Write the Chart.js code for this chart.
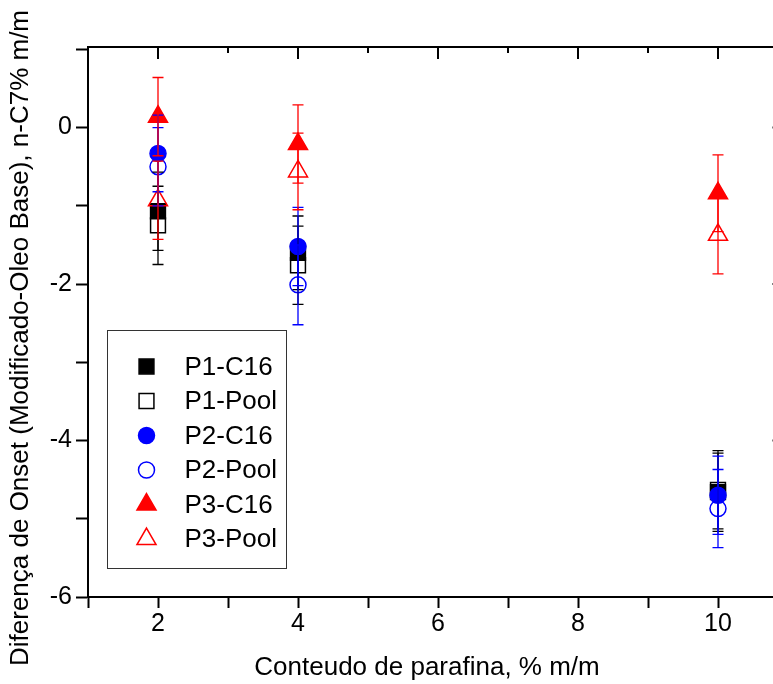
<!DOCTYPE html>
<html>
<head>
<meta charset="utf-8">
<script src="https://cdn.jsdelivr.net/npm/chart.js@4/dist/chart.umd.min.js"></script>
<style>
  html, body { margin: 0; padding: 0; background: #fff; overflow: hidden; }
  #wrap { width: 800px; height: 684px; }
</style>
</head>
<body>
<div id="wrap"><canvas id="myChart" width="800" height="684"></canvas></div>
<script>
// paraffin content (% m/m)
const xValues = [2, 4, 10];

// onset difference per sample
const p1C16 = [-1.07, -1.60, -4.66];
const p1Pool = [-1.25, -1.76, -4.63];
const p2C16 = [-0.33, -1.52, -4.70];
const p2Pool = [-0.50, -2.01, -4.87];
const p3C16 = [0.14, -0.21, -0.84];
const p3Pool = [-0.93, -0.56, -1.37];

// error bar half widths
const p1C16Err = [0.50, 0.47, 0.50];
const p1PoolErr = [0.50, 0.50, 0.50];
const p2C16Err = [0.49, 0.50, 0.50];
const p2PoolErr = [0.50, 0.51, 0.50];
const p3C16Err = [0.50, 0.50, 0.49];
const p3PoolErr = [0.50, 0.49, 0.50];

const xTitle = 'Conteudo de parafina, % m/m';
const yTitle = 'Diferença de Onset (Modificado-Oleo Base), n-C7% m/m';

const FONT = "'Liberation Sans', Arial, sans-serif";

function makeSet(label, ys, errs, style, color, filled, radius, order) {
    return {
        label: label,
        data: xValues.map((x, i) => ({ x: x, y: ys[i] })),
        errors: errs,
        pointStyle: style,
        pointRadius: radius,
        pointBorderWidth: 1.5,
        pointBorderColor: color,
        pointBackgroundColor: filled ? color : 'rgba(0,0,0,0)',
        borderColor: color,
        backgroundColor: filled ? color : 'rgba(0,0,0,0)',
        showLine: false,
        order: order,
    };
}

const datasets = [
    makeSet('P1-C16', p1C16, p1C16Err, 'rect', '#000000', true, 10.5, 6),
    makeSet('P1-Pool', p1Pool, p1PoolErr, 'rect', '#000000', false, 10.5, 5),
    makeSet('P2-C16', p2C16, p2C16Err, 'circle', '#0000ff', true, 8, 4),
    makeSet('P2-Pool', p2Pool, p2PoolErr, 'circle', '#0000ff', false, 8, 3),
    makeSet('P3-C16', p3C16, p3C16Err, 'triangle', '#ff0000', true, 11, 2),
    makeSet('P3-Pool', p3Pool, p3PoolErr, 'triangle', '#ff0000', false, 11, 1),
];

// error bars drawn on top of the markers, in dataset order
const errorBars = {
    id: 'errorBars',
    afterDatasetsDraw(chart) {
        const ctx = chart.ctx;
        const xs = chart.scales.x, ys = chart.scales.y;
        ctx.save();
        chart.data.datasets.forEach(ds => {
            ctx.strokeStyle = ds.borderColor;
            ctx.lineWidth = 1.3;
            ds.data.forEach((p, i) => {
                const e = ds.errors[i];
                const px = xs.getPixelForValue(p.x);
                const top = ys.getPixelForValue(p.y + e);
                const bot = ys.getPixelForValue(p.y - e);
                ctx.beginPath();
                ctx.moveTo(px, top); ctx.lineTo(px, bot);
                ctx.moveTo(px - 5.5, top); ctx.lineTo(px + 5.5, top);
                ctx.moveTo(px - 5.5, bot); ctx.lineTo(px + 5.5, bot);
                ctx.stroke();
            });
        });
        ctx.restore();
    }
};

// top and right frame with inward ticks
const frame = {
    id: 'frame',
    afterDraw(chart) {
        const ctx = chart.ctx, a = chart.chartArea;
        const xs = chart.scales.x, ys = chart.scales.y;
        ctx.save();
        ctx.strokeStyle = '#000';
        ctx.lineWidth = 2;
        ctx.beginPath();
        ctx.moveTo(a.left, a.top); ctx.lineTo(a.right, a.top); ctx.lineTo(a.right, a.bottom);
        ctx.stroke();
        ctx.beginPath();
        xs.ticks.forEach(t => {
            const px = xs.getPixelForValue(t.value);
            const len = t.value % 2 === 0 ? 12 : 6;
            ctx.moveTo(px, a.top); ctx.lineTo(px, a.top + len);
        });
        ys.ticks.forEach(t => {
            const py = ys.getPixelForValue(t.value);
            const len = t.value % 2 === 0 ? 12 : 6;
            ctx.moveTo(a.right, py); ctx.lineTo(a.right - len, py);
        });
        ctx.stroke();

        // axis titles
        ctx.fillStyle = '#000';
        ctx.font = '26px ' + FONT;
        ctx.textAlign = 'center';
        ctx.textBaseline = 'middle';
        ctx.fillText(xTitle, 427, 668);
        ctx.translate(21, 338);
        ctx.rotate(-Math.PI / 2);
        ctx.fillText(yTitle, 0, 0);
        ctx.restore();
    }
};

// boxed legend in the lower left of the plot
const boxLegend = {
    id: 'boxLegend',
    afterDraw(chart) {
        const ctx = chart.ctx, a = chart.chartArea;
        const left = a.left + 19.5, top = 330.5;
        ctx.save();
        ctx.strokeStyle = '#333';
        ctx.lineWidth = 1;
        ctx.strokeRect(left, top, 179, 238);
        ctx.font = '26px ' + FONT;
        ctx.textBaseline = 'middle';
        chart.data.datasets.forEach((ds, i) => {
            const cy = top + 36 + i * 34.5;
            ctx.fillStyle = ds.pointBackgroundColor;
            ctx.strokeStyle = ds.pointBorderColor;
            ctx.lineWidth = 1.5;
            Chart.helpers.drawPoint(ctx, {
                pointStyle: ds.pointStyle, radius: ds.pointRadius, rotation: 0, borderWidth: 1.5
            }, left + 39, cy);
            ctx.fillStyle = '#000';
            ctx.fillText(ds.label, left + 77, cy + 1);
        });
        ctx.restore();
    }
};

const tickFont = { family: FONT, size: 25 };

new Chart(document.getElementById('myChart'), {
    type: 'scatter',
    data: { datasets: datasets },
    options: {
        responsive: false,
        animation: false,
        layout: { padding: { left: 0, top: 47, right: 15.5, bottom: 0 } },
        plugins: { legend: { display: false }, tooltip: { enabled: false } },
        scales: {
            x: {
                type: 'linear',
                min: 1,
                max: 10.95,
                afterFit: s => { s.height = 87; },
                ticks: {
                    stepSize: 1,
                    includeBounds: false,
                    autoSkip: false,
                    maxRotation: 0,
                    padding: 1,
                    color: '#000',
                    font: tickFont,
                    callback: v => (v % 2 === 0 ? v : ''),
                },
                grid: { drawOnChartArea: false, drawTicks: true, tickLength: 11, tickWidth: 2, tickColor: '#000' },
                border: { display: true, color: '#000', width: 2 },
            },
            y: {
                type: 'linear',
                min: -6,
                max: 1.03,
                afterFit: s => { s.width = 88; },
                ticks: {
                    stepSize: 1,
                    includeBounds: false,
                    autoSkip: false,
                    padding: 4,
                    color: '#000',
                    font: tickFont,
                    callback: v => (v % 2 === 0 ? v : ''),
                },
                grid: { drawOnChartArea: false, drawTicks: true, tickLength: 12, tickWidth: 2, tickColor: '#000' },
                border: { display: true, color: '#000', width: 2 },
            },
        },
    },
    plugins: [errorBars, frame, boxLegend],
});
</script>
</body>
</html>
